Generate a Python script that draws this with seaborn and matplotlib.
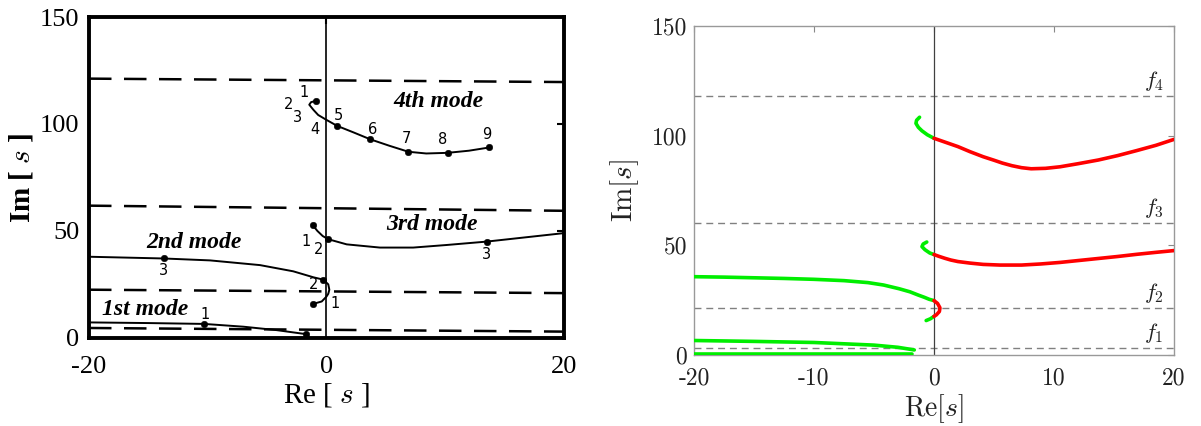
import os
import numpy as np
import pandas as pd
import matplotlib
matplotlib.use("Agg")
import matplotlib.pyplot as plt
import matplotlib.font_manager as fm
import seaborn as sns

sns.set_theme(style="white")
plt.rcParams["font.family"] = ["Liberation Serif", "DejaVu Serif"]
plt.rcParams["mathtext.fontset"] = "cm"
plt.rcParams["axes.unicode_minus"] = False

CMR = fm.FontProperties(fname=os.path.join(matplotlib.get_data_path(), "fonts", "ttf", "cmr10.ttf"), size=17)

# ---------------- Left panel (original published root locus) ----------------
L_m1_re = [-19.9, -15.0, -10.3, -7.0, -4.2, -1.7]
L_m1_im = [7.2, 6.9, 6.5, 5.2, 3.6, 1.7]
L_m2_re = [-19.9, -13.7, -9.8, -5.6, -2.8, -1.1, -0.27, 0.15, 0.24, 0.15, 0.0, -0.4, -1.1]
L_m2_im = [37.9, 37.1, 36.2, 34.0, 31.1, 28.3, 27.2, 25.0, 22.5, 20.6, 19.3, 17.0, 15.9]
L_m3_re = [-1.16, -0.77, -0.32, 0.15, 1.7, 4.5, 7.3, 10.1, 13.5, 19.9]
L_m3_im = [52.7, 50.0, 47.6, 46.1, 43.7, 42.2, 42.2, 43.4, 45.0, 48.9]
L_m4_re = [-0.9, -1.3, -1.45, -1.1, -0.7, 0.0, 0.9, 2.3, 3.7, 5.3, 6.9, 8.4, 10.2, 12.0, 13.7]
L_m4_im = [110.8, 110.2, 109.0, 106.6, 104.2, 101.9, 99.1, 96.0, 92.8, 89.8, 87.0, 86.2, 86.5, 87.5, 89.0]
L_dash_left = [121.2, 61.8, 22.5, 4.6]
L_dash_right = [119.6, 59.4, 20.9, 2.9]

L_pts_re = [-0.9, 0.9, 3.7, 6.9, 10.2, 13.7, 13.5, -1.16, 0.15, -13.7, -0.27, -1.1, -10.3, -1.7]
L_pts_im = [110.8, 99.1, 92.8, 87.0, 86.5, 89.0, 45.0, 52.7, 46.1, 37.1, 27.2, 15.9, 6.5, 1.7]

L_num_txt = ["1", "2", "3", "4", "5", "6", "7", "8", "9", "1", "2", "3", "3", "2", "1", "1"]
L_num_re = [-1.9, -3.2, -2.4, -1.0, 1.0, 3.9, 6.7, 9.8, 13.5, -1.7, -0.7, 13.5, -13.7, -1.1, 0.7, -10.2]
L_num_im = [114.8, 109.3, 103.0, 97.5, 103.8, 97.5, 93.3, 92.8, 95.1, 45.0, 41.2, 38.8, 31.6, 24.9, 16.0, 10.7]

L_mode_txt = ["4th mode", "3rd mode", "2nd mode", "1st mode"]
L_mode_re = [9.4, 8.9, -11.2, -15.3]
L_mode_im = [110.6, 52.8, 44.5, 13.1]

# ---------------- Right panel (recomputed root locus) ----------------
R_m1a_re = [-20.0, -1.8]
R_m1a_im = [0.3, 0.3]
R_m1b_re = [-20.0, -15.0, -10.0, -5.0, -3.0, -1.64]
R_m1b_im = [6.6, 6.2, 5.7, 4.5, 3.5, 2.3]
R_m2g_re = [-20.0, -17.5, -15.0, -12.5, -10.0, -7.5, -5.5, -4.2, -2.9, -2.0, -1.3, -0.8, -0.4, 0.0]
R_m2g_im = [35.7, 35.5, 35.2, 34.9, 34.5, 33.9, 33.0, 31.9, 30.2, 28.8, 27.3, 26.3, 25.4, 24.8]
R_m2r_re = [0.0, 0.3, 0.5, 0.45, 0.2, 0.0]
R_m2r_im = [24.8, 23.5, 21.5, 19.8, 18.3, 17.6]
R_m2t_re = [0.0, -0.3, -0.65]
R_m2t_im = [17.6, 16.5, 15.7]
R_m3g_re = [-0.6, -0.9, -1.0, -0.75, -0.35, 0.0]
R_m3g_im = [51.5, 50.6, 49.4, 48.0, 46.5, 45.8]
R_m3r_re = [0.0, 0.4, 0.9, 1.4, 2.0, 3.0, 4.1, 5.5, 7.3, 8.9, 10.5, 12.1, 13.7, 15.3, 16.9, 18.5, 20.0]
R_m3r_im = [45.8, 45.0, 44.1, 43.3, 42.6, 41.9, 41.3, 41.0, 41.0, 41.5, 42.2, 43.1, 44.0, 44.9, 45.9, 46.8, 47.6]
R_m4g_re = [-1.2, -1.45, -1.5, -1.3, -1.0, -0.55, 0.0]
R_m4g_im = [108.4, 107.0, 105.6, 103.8, 102.2, 100.4, 98.8]
R_m4r_re = [0.0, 1.0, 2.0, 3.0, 4.1, 5.0, 5.7, 6.5, 7.3, 8.1, 9.3, 10.5, 12.0, 13.7, 15.3, 16.9, 18.5, 20.0]
R_m4r_im = [98.8, 96.9, 95.0, 92.7, 90.4, 88.8, 87.5, 86.3, 85.4, 84.9, 85.1, 85.8, 87.2, 88.9, 90.9, 93.2, 95.6, 98.3]
R_f_vals = [3.3, 21.6, 60.3, 118.1]
R_f_names = [r"$f_1$", r"$f_2$", r"$f_3$", r"$f_4$"]

x_ticks = [-20, -10, 0, 10, 20]
y_ticks = [0, 50, 100, 150]

# ---------------- Build tables ----------------
def seg(name, kind, re, im):
    return pd.DataFrame({"seg": name, "kind": kind, "re": re, "im": im})

left_df = pd.concat([
    seg("m1", "k", L_m1_re, L_m1_im),
    seg("m2", "k", L_m2_re, L_m2_im),
    seg("m3", "k", L_m3_re, L_m3_im),
    seg("m4", "k", L_m4_re, L_m4_im),
], ignore_index=True)

right_df = pd.concat([
    seg("m1a", "stable", R_m1a_re, R_m1a_im),
    seg("m1b", "stable", R_m1b_re, R_m1b_im),
    seg("m2g", "stable", R_m2g_re, R_m2g_im),
    seg("m2r", "unstable", R_m2r_re, R_m2r_im),
    seg("m2t", "stable", R_m2t_re, R_m2t_im),
    seg("m3g", "stable", R_m3g_re, R_m3g_im),
    seg("m3r", "unstable", R_m3r_re, R_m3r_im),
    seg("m4g", "stable", R_m4g_re, R_m4g_im),
    seg("m4r", "unstable", R_m4r_re, R_m4r_im),
], ignore_index=True)

fig = plt.figure(figsize=(12.01, 4.26), dpi=100)
fig.patch.set_facecolor("white")

# ---------------- Left axes ----------------
axL = fig.add_axes([0.0741, 0.207, 0.3955, 0.753])
for i in range(len(L_dash_left)):
    axL.plot([-20, 20], [L_dash_left[i], L_dash_right[i]], color="black",
             lw=1.8, dashes=(9, 5), zorder=1)
axL.axvline(0, color="black", lw=1.2, zorder=1)
sns.lineplot(data=left_df, x="re", y="im", units="seg", estimator=None, sort=False,
             color="black", lw=1.4, ax=axL, legend=False, zorder=3)
sns.scatterplot(x=L_pts_re, y=L_pts_im, color="black", s=22, edgecolor="black",
                ax=axL, zorder=4)
for t, xr, yi in zip(L_num_txt, L_num_re, L_num_im):
    axL.text(xr, yi, t, fontsize=10.5, ha="center", va="center",
             family=["DejaVu Sans"], color="black")
for t, xr, yi in zip(L_mode_txt, L_mode_re, L_mode_im):
    axL.text(xr, yi, t, fontsize=17, ha="center", va="center", style="italic",
             weight="semibold", color="black")
axL.set_xlim(-20, 20)
axL.set_ylim(0, 150)
axL.set_xticks([-20, 0, 20])
axL.set_xticklabels(["-20", "0", "20"])
axL.set_yticks(y_ticks)
axL.set_yticklabels([str(v) for v in y_ticks])
axL.tick_params(axis="both", direction="in", length=5, width=1.5, labelsize=19,
                colors="black", top=True, right=True)
axL.tick_params(axis="x", pad=13)
axL.tick_params(axis="y", pad=7)
for sp in axL.spines.values():
    sp.set_color("black")
    sp.set_linewidth(2.8)
axL.set_xlabel(r"Re [ $s$ ]", fontsize=21, labelpad=2, color="black")
axL.set_ylabel(r"Im [ $s$ ]", fontsize=21, labelpad=3, color="black", weight="bold")

# ---------------- Right axes ----------------
axR = fig.add_axes([0.5778, 0.1667, 0.3997, 0.7723])
for v, nm in zip(R_f_vals, R_f_names):
    axR.axhline(v, color="#808080", lw=1.0, dashes=(5, 3.5), zorder=1)
    axR.text(18.3, v + 6.8, nm, fontsize=16, ha="center", va="center", color="#222222")
axR.axvline(0, color="#404040", lw=0.9, zorder=1)
sns.lineplot(data=right_df, x="re", y="im", units="seg", hue="kind", estimator=None,
             sort=False, palette={"stable": "#00ee00", "unstable": "#ff0000"},
             lw=2.6, ax=axR, legend=False, zorder=3)
axR.set_xlim(-20, 20)
axR.set_ylim(0, 150)
axR.set_xticks(x_ticks)
axR.set_xticklabels([str(v) for v in x_ticks], fontproperties=CMR)
axR.set_yticks(y_ticks)
axR.set_yticklabels([str(v) for v in y_ticks], fontproperties=CMR)
axR.tick_params(axis="both", direction="in", length=4, width=0.8,
                color="#888888", labelcolor="#222222", top=True, right=True)
axR.tick_params(axis="x", pad=9)
axR.tick_params(axis="y", pad=5)
for sp in axR.spines.values():
    sp.set_color("#999999")
    sp.set_linewidth(1.0)
axR.set_xlabel(r"$\mathrm{Re}[s]$", fontsize=20, labelpad=2, color="#222222")
axR.set_ylabel(r"$\mathrm{Im}[s]$", fontsize=21, labelpad=8, color="#222222")

fig.savefig("out.png", dpi=100, facecolor="white")
